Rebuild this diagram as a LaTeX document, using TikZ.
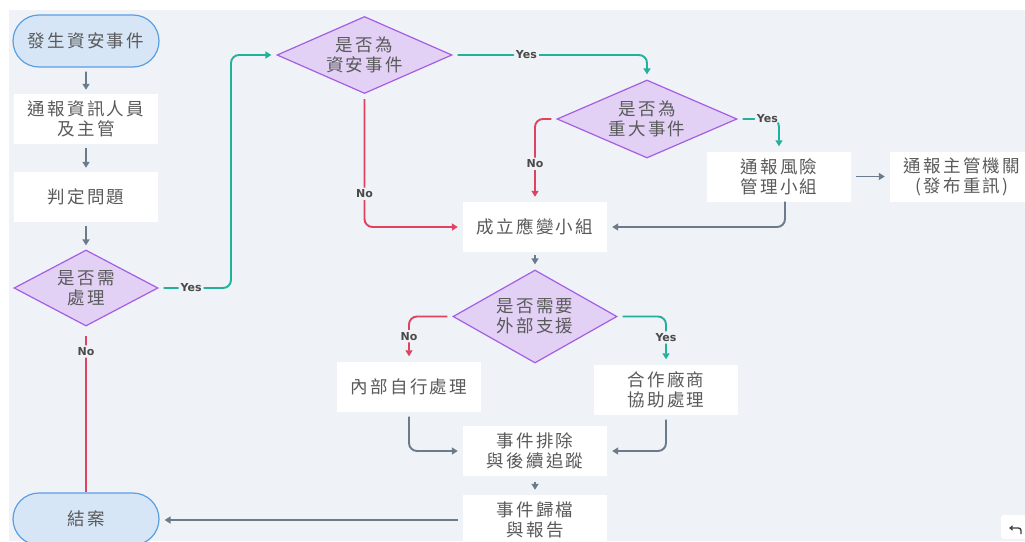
\documentclass[tikz,border=0pt]{standalone}
\usepackage{fontspec}
\newfontfamily\cjk[LetterSpace=13]{Noto Sans CJK TC}
\newfontfamily\lab{DejaVu Sans}
\usetikzlibrary{shapes.geometric,shapes.misc,arrows.meta}
\definecolor{canvas}{HTML}{EFF2F6}
\definecolor{txt}{HTML}{5A5A5A}
\definecolor{termfill}{HTML}{D6E6F7}
\definecolor{termdraw}{HTML}{5B9FE3}
\definecolor{decfill}{HTML}{E2D0F5}
\definecolor{decdraw}{HTML}{A45EE5}
\definecolor{arrgray}{HTML}{6C7B8B}
\definecolor{yesc}{HTML}{22B29B}
\definecolor{noc}{HTML}{DF4360}
\definecolor{lbltxt}{HTML}{4A4A4A}
\begin{document}
\begin{tikzpicture}[x=1pt,y=-1pt,
  txtfont/.style={font=\cjk\fontsize{17.5}{20}\selectfont, text=txt, align=center},
  box/.style={txtfont, fill=white, minimum width=144pt, minimum height=50pt, inner sep=0pt},
  term/.style={txtfont, rounded rectangle, draw=termdraw, fill=termfill, line width=1.2pt, minimum width=146pt, minimum height=52pt, inner sep=0pt},
  dec/.style={txtfont, diamond, draw=decdraw, fill=decfill, line width=1.2pt, inner sep=0pt},
  arr/.style={draw=arrgray, line width=1.9pt, -{Triangle[length=6pt,width=7pt]}, rounded corners=8pt, shorten <=5pt, shorten >=5pt},
  yesline/.style={arr, draw=yesc},
  noline/.style={arr, draw=noc},
  lbl/.style={font=\lab\bfseries\fontsize{11}{11}\selectfont, text=lbltxt, fill=canvas, inner sep=2pt}
]
\useasboundingbox (0,0) rectangle (1025,541);
\clip (0,0) rectangle (1025,541);
\fill[white] (0,0) rectangle (1025,541);
\fill[canvas] (9,10) rectangle (1025,541);

% nodes
\node[term] (start) at (86,41) {發生資安事件};
\node[box] (notify) at (86,119) {通報資訊人員\\及主管};
\node[box] (judge) at (86,197) {判定問題};
\node[dec, aspect=1.9, minimum width=144pt, minimum height=76pt] (q1) at (86,288) {是否需\\處理};
\node[term] (close) at (86,519) {結案};
\node[dec, aspect=2.27, minimum width=175pt, minimum height=77pt] (q2) at (364.5,55) {是否為\\資安事件};
\node[dec, aspect=2.3, minimum width=180pt, minimum height=78pt] (q3) at (647,119) {是否為\\重大事件};
\node[box] (risk) at (779,176.5) {通報風險\\管理小組};
\node[box] (auth) at (962,176.5) {通報主管機關\\(發布重訊)};
\node[box] (team) at (535,227) {成立應變小組};
\node[dec, aspect=1.76, minimum width=164pt, minimum height=93pt] (q4) at (535,316.5) {是否需要\\外部支援};
\node[box] (internal) at (409,386.5) {內部自行處理};
\node[box] (vendor) at (666,389.5) {合作廠商\\協助處理};
\node[box] (fix) at (535,451) {事件排除\\與後續追蹤};
\node[box] (archive) at (535,520) {事件歸檔\\與報告};
\coordinate (c1) at (231,0);
\coordinate (c2) at (785,0);

% connectors
\draw[arr, shorten <=4pt, shorten >=4pt] (start) -- (notify);
\draw[arr, shorten <=4pt, shorten >=4pt] (notify) -- (judge);
\draw[arr, shorten <=4pt, shorten >=4pt] (judge) -- (q1);
\draw[noline, -, shorten <=9pt, shorten >=0pt] (q1.south) -- node[lbl, pos=0.15] {No} (close.north);
\draw[yesline] (q1.east) -- node[lbl, pos=0.45] {Yes} (q1.east -| c1) -- (c1 |- q2.west) -- (q2.west);
\draw[yesline] (q2.east) -- node[lbl, pos=0.38] {Yes} (q2.east -| q3.north) -- (q3.north);
\draw[noline] (q2.south) -- node[lbl, pos=0.75] {No} (q2.south |- team.west) -- (team.west);
\draw[noline] (q3.west) -| node[lbl, pos=0.77] {No} (team.north);
\draw[yesline] (q3.east) -| node[lbl, pos=0.36] {Yes} (risk.north);
\draw[arr] (risk) -- (auth);
\draw[arr, shorten <=0pt] (risk.south -| c2) |- (team.east);
\draw[arr, shorten <=3pt, shorten >=5pt] (team) -- (q4);
\draw[noline] (q4.west) -| node[lbl, pos=0.72] {No} (internal.north);
\draw[yesline] (q4.east) -| node[lbl, pos=0.72] {Yes} (vendor.north);
\draw[arr] (internal.south) |- (fix.west);
\draw[arr] (vendor.south) |- (fix.east);
\draw[arr, shorten <=6pt, shorten >=5pt] (fix) -- (archive);
\draw[arr] (archive.west) -- (archive.west -| close.east);

% undo button
\node[fill=white, rounded corners=3pt, minimum width=30pt, minimum height=24pt, inner sep=0pt] (undo) at (1016,527) {};
\coordinate (u1) at (1021,534);
\coordinate (u2) at (1021,528);
\coordinate (u3) at (1009,528);
\draw[black!75, line width=1.4pt, rounded corners=2.5pt, -{Triangle[length=3.5pt,width=5pt]}] (u1) -- (u2) -- (u3);
\end{tikzpicture}
\end{document}
